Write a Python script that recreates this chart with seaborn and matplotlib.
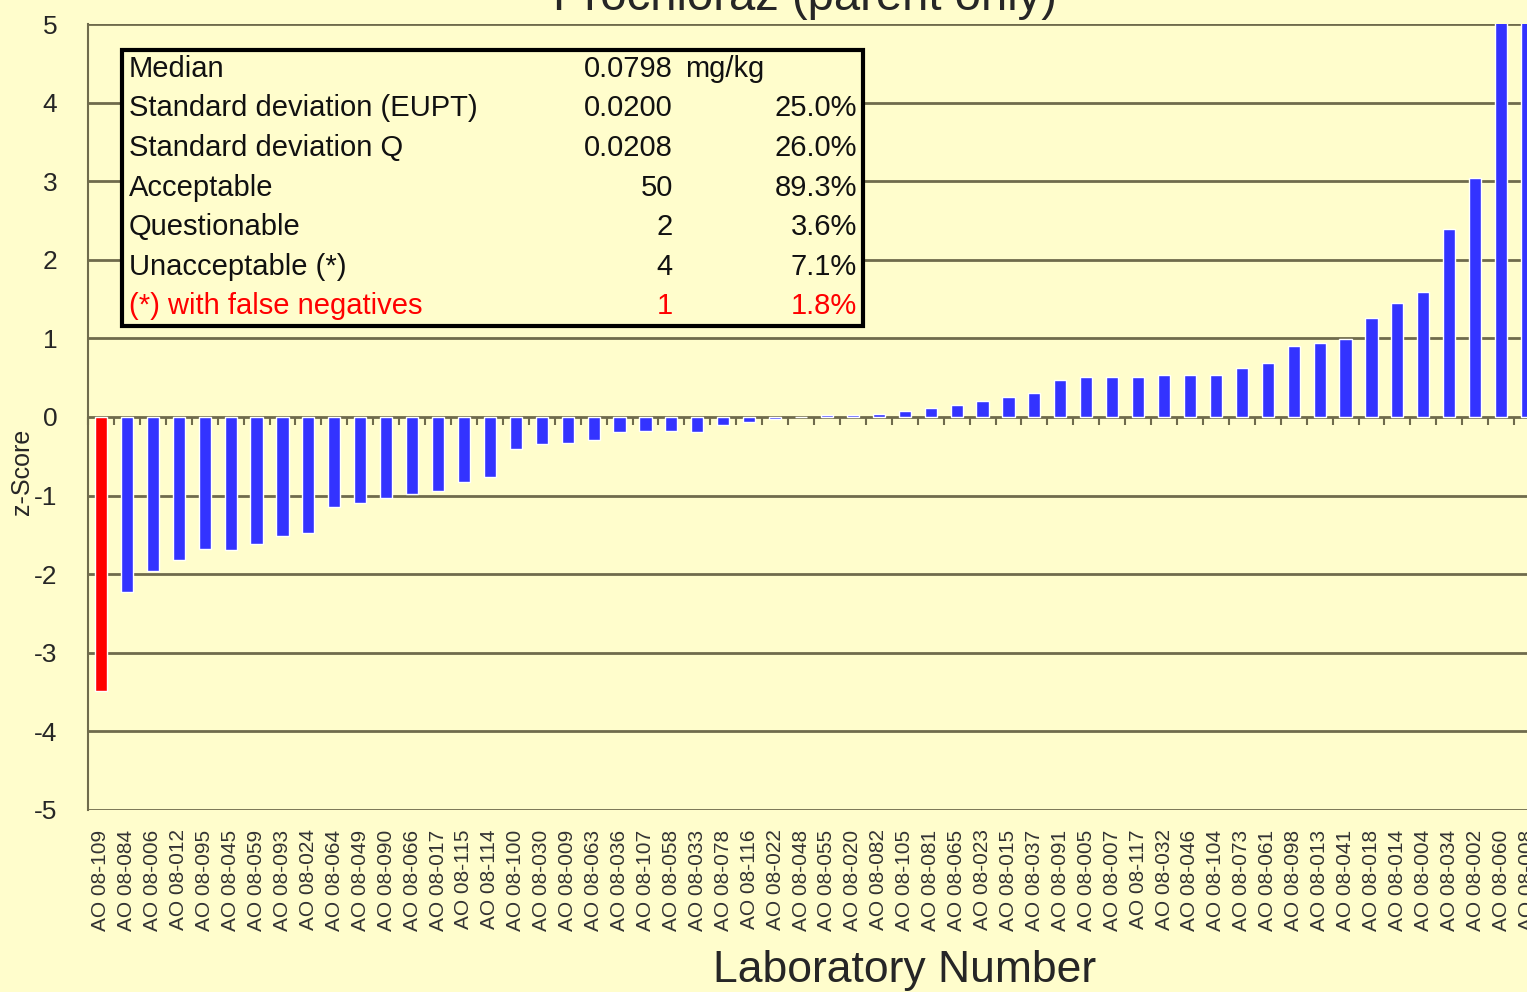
import pandas as pd
import numpy as np
import matplotlib
matplotlib.use("Agg")
import matplotlib.pyplot as plt
import seaborn as sns
from matplotlib.patches import Rectangle

# lab codes, sorted by z-score
labs = ['109', '084', '006', '012', '095', '045', '059', '093', '024', '064',
        '049', '090', '066', '017', '115', '114', '100', '030', '009', '063',
        '036', '107', '058', '033', '078', '116', '022', '048', '055', '020',
        '082', '105', '081', '065', '023', '015', '037', '091', '005', '007',
        '117', '032', '046', '104', '073', '061', '098', '013', '041', '018',
        '014', '004', '034', '002', '060', '008']
lab_names = ['AO 08-' + c for c in labs]

# z-scores (last two go past the top of the axis)
z_scores = [-3.48, -2.23, -1.96, -1.82, -1.68, -1.69, -1.62, -1.51, -1.48, -1.15,
            -1.09, -1.03, -0.98, -0.94, -0.83, -0.76, -0.41, -0.35, -0.33, -0.29,
            -0.19, -0.18, -0.18, -0.19, -0.10, -0.06, -0.03, 0.00, 0.02, 0.02,
            0.04, 0.07, 0.11, 0.15, 0.20, 0.26, 0.30, 0.47, 0.51, 0.51,
            0.51, 0.53, 0.53, 0.53, 0.62, 0.69, 0.90, 0.94, 0.99, 1.26,
            1.45, 1.59, 2.39, 3.04, 6.2, 7.0]

# first lab is the false negative
status = ['false negative'] + ['result'] * (len(labs) - 1)

# summary box
stat_names = ['Median', 'Standard deviation (EUPT)', 'Standard deviation Q',
              'Acceptable', 'Questionable', 'Unacceptable (*)', '(*) with false negatives']
stat_values = ['0.0798', '0.0200', '0.0208', '50', '2', '4', '1']
stat_pcts = ['', '25.0%', '26.0%', '89.3%', '3.6%', '7.1%', '1.8%']

df = pd.DataFrame({'Lab': lab_names, 'z': z_scores, 'Status': status})

bg = '#FFFDCC'
grid_col = '#6f6b4c'

sns.set_style('white')
plt.rcParams['font.family'] = ['Liberation Sans', 'DejaVu Sans']
plt.rcParams['axes.unicode_minus'] = False

fig = plt.figure(figsize=(15.27, 9.92), dpi=100)
fig.patch.set_facecolor(bg)
ax = fig.add_axes([88 / 1527, 0.1835, (1540 - 88) / 1527, 0.7923])
ax.set_facecolor(bg)

sns.barplot(data=df, x='Lab', y='z', hue='Status',
            palette={'false negative': '#FF0000', 'result': '#3333FF'},
            width=0.47, legend=False, ax=ax, saturation=1)

ax.set_ylim(-5, 5)
ax.set_xlim(-0.5, len(labs) - 0.5)
ax.set_yticks(range(-5, 6))
ax.yaxis.grid(True, color=grid_col, linewidth=2)
ax.set_axisbelow(True)
for s in ['top', 'right', 'bottom']:
    ax.spines[s].set_visible(False)
ax.spines['left'].set_color(grid_col)
ax.spines['left'].set_linewidth(1.5)

ax.tick_params(axis='y', labelsize=19, length=8, width=1.5, color=grid_col, pad=14)
ax.tick_params(axis='x', labelsize=15, length=0, pad=14, labelrotation=90, labelcolor='#333333')
ax.set_xlabel('Laboratory Number', fontsize=32)
ax.xaxis.set_label_coords(0.5627, -0.178)
ax.set_ylabel('z-Score', fontsize=18)
ax.yaxis.set_label_coords(-0.037, 0.43)

# category axis crossing at zero with tick marks between bars
sec = ax.secondary_xaxis(0.5)
sec.set_xticks(np.arange(-0.5, len(labs), 1))
sec.set_xticklabels([])
sec.xaxis.set_ticks_position('bottom')
sec.tick_params(length=6, width=1.5, color=grid_col)
sec.spines['bottom'].set_color(grid_col)
sec.spines['bottom'].set_linewidth(1.5)

fig.text(0.527, 0.990, 'Prochloraz (parent only)', fontsize=34,
         ha='center', va='baseline')

# summary table
fig.patches.append(Rectangle((0.0799, 0.6714), 0.5652 - 0.0799, 0.9496 - 0.6714,
                             transform=fig.transFigure, facecolor=bg,
                             edgecolor='black', linewidth=3, zorder=5))
row_y = [0.9304, 0.8911, 0.8508, 0.8105, 0.7712, 0.7308, 0.6915]
for i, (n, v, p) in enumerate(zip(stat_names, stat_values, stat_pcts)):
    col = 'red' if i == len(stat_names) - 1 else '#111111'
    fig.text(0.0845, row_y[i], n, fontsize=21, color=col, va='center', zorder=6)
    fig.text(0.4407, row_y[i], v, fontsize=21, color=col, va='center', ha='right', zorder=6)
    if p:
        fig.text(0.5612, row_y[i], p, fontsize=21, color=col, va='center', ha='right', zorder=6)
fig.text(0.4486, row_y[0], 'mg/kg', fontsize=21, color='#111111', va='center', zorder=6)

fig.savefig('out.png', dpi=100, facecolor=bg)
